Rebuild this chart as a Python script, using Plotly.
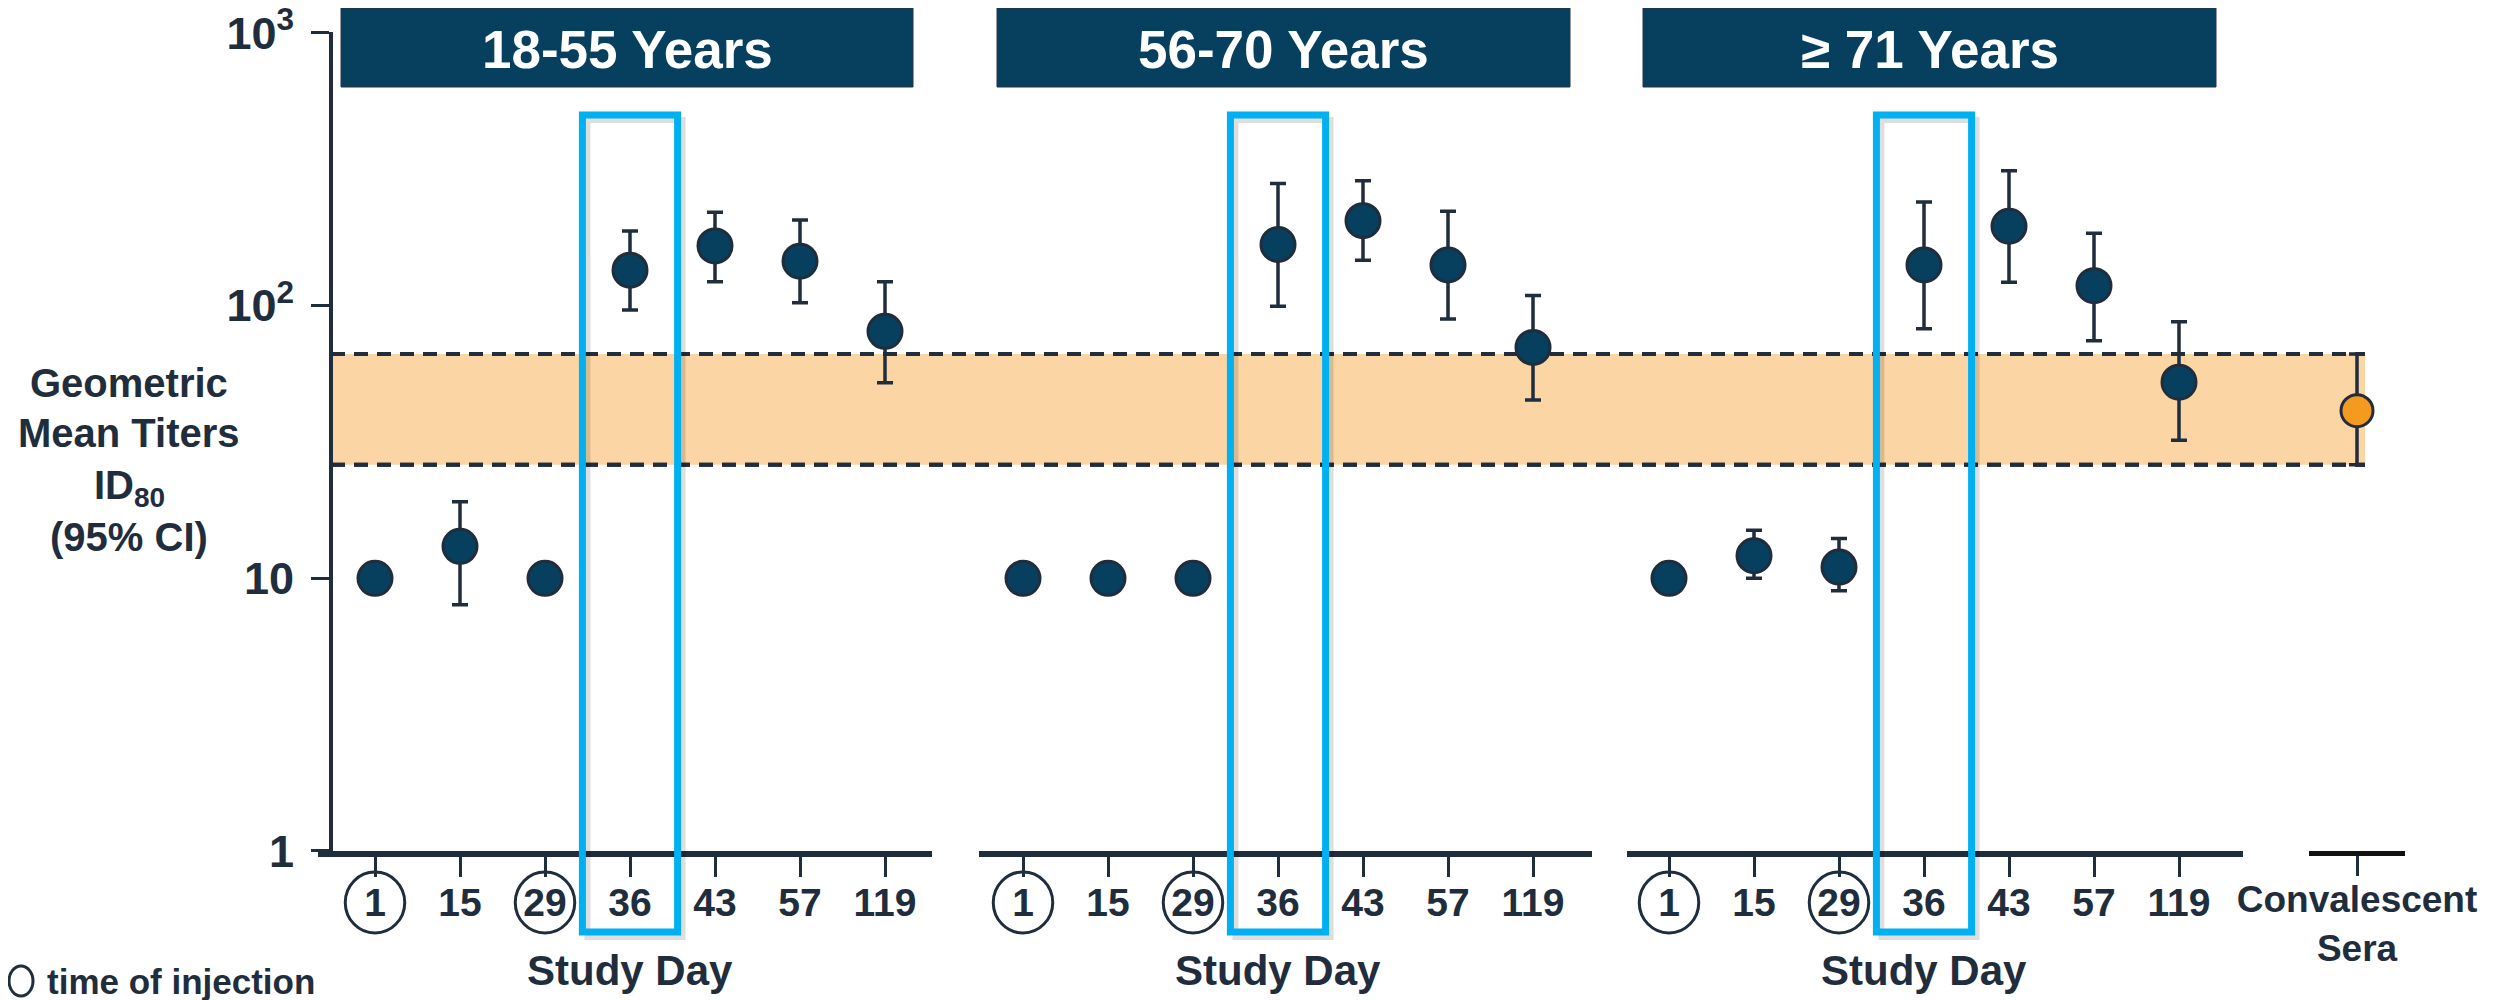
import plotly.graph_objects as go

# ---------------- data ----------------
days = ["1", "15", "29", "36", "43", "57", "119"]
injection_days = ["1", "29"]
highlight_day = "36"
groups = ["18-55 Years", "56-70 Years", "≥ 71 Years"]

g1_gmt = [10, 13.1, 10, 135, 165.6, 145.6, 80.5]
g1_lo = [None, 8.0, None, 96.5, 122.5, 102.6, 52.2]
g1_hi = [None, 19.1, None, 188, 220, 206, 122.5]

g2_gmt = [10, 10, 10, 167.6, 205, 141, 70.3]
g2_lo = [None, None, None, 99.5, 146.8, 89.4, 45.1]
g2_hi = [None, None, None, 280.6, 287, 222, 109]

g3_gmt = [10, 12.1, 11.0, 141, 195.6, 118.4, 52.4]
g3_lo = [None, 10.0, 9.0, 82.3, 121.8, 74.4, 32.1]
g3_hi = [None, 15.0, 14.0, 240, 312.5, 184.5, 87.3]

conv_label = "Convalescent Sera"
conv_gmt = [41.2]
conv_lo = [26.1]
conv_hi = [66.5]

y_tickvals = [1, 10, 100, 1000]
y_ticktext = ["1", "10", "10<sup>2</sup>", "10<sup>3</sup>"]

# ---------------- styling ----------------
OFF = 8  # page body margin
W, H = 2496 - OFF, 1000 - OFF
FONT = "Liberation Sans, Arial, Helvetica, sans-serif"
DARK = "#1F2D3D"
NAVY = "#07405E"
BLUE = "#00B0F0"
BAND = "#FCD5A4"
ORANGE = "#F39A1F"

DECADE = (851 - 33) / 3.0
YTOP = 3.004


def px(x):
    return (x - OFF) / W


def py(y):
    return 1 - (y - OFF) / H


fig = go.Figure()

# band axis (x) spanning from y axis to convalescent point
fig.add_trace(go.Scatter(x=[0, 1], y=conv_lo * 2, mode="lines",
                         line=dict(color=DARK, width=4, dash="14px,9px"),
                         xaxis="x", yaxis="y", showlegend=False, hoverinfo="skip"))
fig.add_trace(go.Scatter(x=[0, 1], y=conv_hi * 2, mode="lines", fill="tonexty",
                         fillcolor=BAND,
                         line=dict(color=DARK, width=4, dash="14px,9px"),
                         xaxis="x", yaxis="y", showlegend=False, hoverinfo="skip"))
fig.add_trace(go.Scatter(x=[0, 1], y=conv_lo * 2, mode="lines",
                         line=dict(color=DARK, width=4, dash="14px,9px"),
                         xaxis="x", yaxis="y", showlegend=False, hoverinfo="skip"))


def errs(gmt, lo, hi):
    plus = [(h - g) if h is not None else 0 for g, h in zip(gmt, hi)]
    minus = [(g - l) if l is not None else 0 for g, l in zip(gmt, lo)]
    return plus, minus


series = [(g1_gmt, g1_lo, g1_hi, "x2"), (g2_gmt, g2_lo, g2_hi, "x3"), (g3_gmt, g3_lo, g3_hi, "x4")]
for gmt, lo, hi, xa in series:
    plus, minus = errs(gmt, lo, hi)
    fig.add_trace(go.Scatter(
        x=days, y=gmt, mode="markers", xaxis=xa, yaxis="y", showlegend=False,
        marker=dict(size=34, color=NAVY, line=dict(color=DARK, width=3)),
        error_y=dict(type="data", symmetric=False, array=plus, arrayminus=minus,
                     color=DARK, thickness=3.5, width=8),
    ))

plus, minus = errs(conv_gmt, conv_lo, conv_hi)
fig.add_trace(go.Scatter(
    x=[conv_label], y=conv_gmt, mode="markers", xaxis="x5", yaxis="y", showlegend=False,
    marker=dict(size=32, color=ORANGE, line=dict(color=DARK, width=3)),
    error_y=dict(type="data", symmetric=False, array=plus, arrayminus=minus,
                 color=DARK, thickness=3.5, width=8),
))

# ---------------- axes ----------------
SP = 85.0
panels = [  # (axis line start px, axis line end px, first tick px)
    (317.5, 931.5, 375),
    (978.5, 1592, 1023),
    (1627, 2243, 1669),
]

layout_axes = {}
layout_axes["xaxis"] = dict(domain=[px(331), px(2365)], range=[0, 1], visible=False,
                            anchor="y", fixedrange=True, automargin=False)
for i, (a, b, t0) in enumerate(panels):
    name = "xaxis%d" % (i + 2)
    layout_axes[name] = dict(
        domain=[px(a), px(b)],
        range=[-(t0 - a) / SP, (b - t0) / SP],
        type="category", categoryorder="array", categoryarray=days,
        anchor="y", showline=True, linecolor=DARK, linewidth=6,
        ticks="outside", ticklen=20, tickwidth=3, tickcolor=DARK,
        showgrid=False, zeroline=False, automargin=False,
        tickfont=dict(family=FONT, size=39, color=DARK, weight="bold"),
        ticklabelstandoff=-8,
    )
layout_axes["xaxis5"] = dict(
    domain=[px(2309), px(2405)], range=[-0.5, 0.5], type="category",
    anchor="y", showline=True, linecolor="#111111", linewidth=5,
    ticks="outside", ticklen=20, tickwidth=3, tickcolor=DARK,
    tickvals=[conv_label], ticktext=["Convalescent<br>Sera"],
    showgrid=False, zeroline=False, automargin=False,
    tickfont=dict(family=FONT, size=37, color=DARK, weight="bold"),
    ticklabelstandoff=-8,
)
layout_axes["yaxis"] = dict(
    type="log", range=[0, YTOP], domain=[py(851), py(851 - YTOP * DECADE)],
    anchor="free", position=px(331), showline=True, linecolor=DARK, linewidth=4,
    ticks="outside", ticklen=18, tickwidth=3, tickcolor=DARK,
    tickvals=y_tickvals, ticktext=y_ticktext, showgrid=False, zeroline=False,
    automargin=False, ticklabeloverflow="allow",
    tickfont=dict(family=FONT, size=45, color=DARK, weight="bold"),
    ticklabelstandoff=8,
)

shapes = []
annotations = []

# header boxes
headers = [(341, 913), (997, 1570), (1643, 2216)]
for (a, b), label in zip(headers, groups):
    shapes.append(dict(type="rect", xref="paper", yref="paper",
                       x0=px(a), x1=px(b), y0=py(87), y1=py(8),
                       fillcolor=NAVY, line=dict(color="#2A3440", width=1), layer="above"))
    annotations.append(dict(text=label, xref="paper", yref="paper",
                            x=px((a + b) / 2), y=py(49), xanchor="center", yanchor="middle",
                            showarrow=False,
                            font=dict(family=FONT, size=53, color="white", weight="bold")))

# highlight boxes around the day-36 column and circles around injection days
hi_idx = days.index(highlight_day)
for i in range(3):
    xr = "x%d" % (i + 2)
    off = 5 / SP
    shapes.append(dict(type="rect", xref=xr, yref="paper",
                       x0=hi_idx - 0.56 + off, x1=hi_idx + 0.56 + off,
                       y0=py(932 + 5), y1=py(115 + 5),
                       line=dict(color="rgba(0,0,0,0.13)", width=6), layer="above"))
    shapes.append(dict(type="rect", xref=xr, yref="paper",
                       x0=hi_idx - 0.56, x1=hi_idx + 0.56, y0=py(932), y1=py(115),
                       line=dict(color=BLUE, width=7), layer="above"))
    for d in injection_days:
        k = days.index(d)
        shapes.append(dict(type="circle", xref=xr, yref="paper",
                           x0=k - 0.35, x1=k + 0.35, y0=py(933), y1=py(872),
                           line=dict(color=DARK, width=3), layer="above"))
    annotations.append(dict(text="Study Day", xref=xr, yref="paper",
                            x=hi_idx, y=py(970), xanchor="center", yanchor="middle",
                            showarrow=False,
                            font=dict(family=FONT, size=42, color=DARK, weight="bold")))

# y title
ytitle_lines = [("Geometric", 383), ("Mean Titers", 433), ("ID<sub>80</sub>", 488), ("(95% CI)", 537)]
for txt, yy in ytitle_lines:
    annotations.append(dict(text=txt, xref="paper", yref="paper", x=px(129), y=py(yy),
                            xanchor="center", yanchor="middle", showarrow=False,
                            font=dict(family=FONT, size=40, color=DARK, weight="bold")))

# injection legend
shapes.append(dict(type="circle", xref="paper", yref="paper",
                   x0=px(9), x1=px(33), y0=py(996), y1=py(966),
                   line=dict(color=DARK, width=3), layer="above"))
annotations.append(dict(text="time of injection", xref="paper", yref="paper",
                        x=px(45), y=py(981), xanchor="left", yanchor="middle",
                        showarrow=False,
                        font=dict(family=FONT, size=35, color=DARK, weight="bold")))

fig.update_layout(
    template="none",
    width=W, height=H, autosize=False,
    margin=dict(l=0, r=0, t=0, b=0, pad=0),
    paper_bgcolor="white", plot_bgcolor="rgba(0,0,0,0)",
    shapes=shapes, annotations=annotations,
    showlegend=False,
    **layout_axes,
)

fig.write_html("out.html")
